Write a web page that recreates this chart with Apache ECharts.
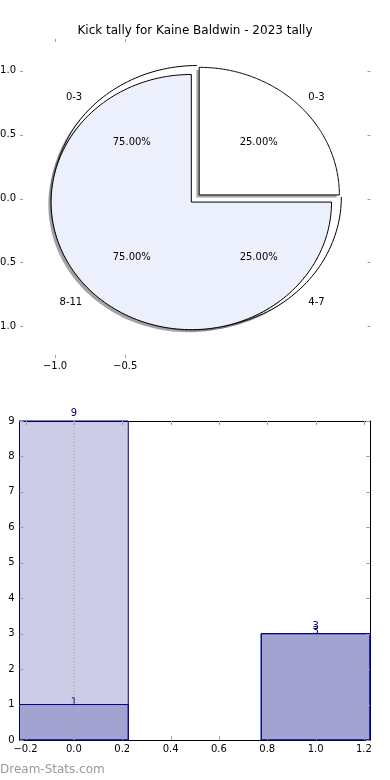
<!DOCTYPE html>
<html><head><meta charset="utf-8">
<script src="https://cdn.jsdelivr.net/npm/echarts@6/dist/echarts.min.js"></script>
<style>html,body{margin:0;padding:0;background:#fff}#c{width:390px;height:780px}</style>
</head><body><div id="c"></div>
<script>
// ---------- data ----------
const chartTitle = 'Kick tally for Kaine Baldwin - 2023 tally';
const pie1Labels = ['0-3', '0-3'];
const pie1Values = [25, 75];
const pie2Labels = ['4-7', '8-11'];
const pie2Values = [25, 75];
const pieTicksX = [-1, -0.5];
const pieTicksY = [-1, -0.5, 0, 0.5, 1];
const barPositions = [0, 1];
const barSeriesA = [9, 3];
const barSeriesB = [1, 3];
const barTicksX = [-0.2, 0, 0.2, 0.4, 0.6, 0.8, 1.0, 1.2];
const barTicksY = [0, 1, 2, 3, 4, 5, 6, 7, 8, 9];
const barRefLineX = 0;
const watermark = 'Dream-Stats.com';

// ---------- helpers ----------
const FONT = 'DejaVu Sans';
const sum = a => a.reduce((s, v) => s + v, 0);
const fmt = v => (v < 0 ? '\u2212' : '') + Math.abs(v).toFixed(1);
const total1 = sum(pie1Values), total2 = sum(pie2Values);
const BLUE = '#EBF0FC';
const PIE_X = [-1.25, 1.25], PIE_Y = [-1.25, 1.25];
const BAR_X = [-0.225, 1.225], BAR_Y = [0, 9];
const TEXT_DY = 1.5;

// sectors in drawing order
const sectors = [
  { value: pie1Values[1], total: total1, start: 90, cx: 0.012, cy: 0.012, r: 1.03, fill: '#ffffff', shade: 'rgba(77,77,77,0.5)', arcOnly: true },
  { value: pie1Values[0], total: total1, start: 0, cx: 0.028, cy: 0.028, r: 1, fill: '#ffffff', shade: 'rgba(77,77,77,0.5)' },
  { value: pie2Values[1], total: total2, start: 90, cx: -0.028, cy: -0.028, r: 1, fill: BLUE, shade: 'rgba(70,72,76,0.5)' }
];
const pieTexts = [
  { label: pie1Labels[0], value: pie1Values[0], total: total1, angle: 45 },
  { label: pie1Labels[1], value: pie1Values[1], total: total1, angle: 135 },
  { label: pie2Labels[0], value: pie2Values[0], total: total2, angle: 315 },
  { label: pie2Labels[1], value: pie2Values[1], total: total2, angle: 225 }
];

function arcPoints(api, cx, cy, r, start, sweep) {
  const pts = [];
  const N = 160;
  for (let k = 0; k <= N; k++) {
    const a = (start + sweep * k / N) * Math.PI / 180;
    pts.push(api.coord([cx + r * Math.cos(a), cy + r * Math.sin(a)]));
  }
  return pts;
}
function sectorPoints(api, cx, cy, r, start, sweep) {
  return [api.coord([cx, cy])].concat(arcPoints(api, cx, cy, r, start, sweep));
}

const labelStyle = { fontFamily: FONT, fontSize: 10, color: '#000' };
const TICK_COLOR = '#a0a0a0';

function tickLine(x1, y1, x2, y2) {
  return { type: 'line', shape: { x1: x1, y1: y1, x2: x2, y2: y2 }, style: { stroke: TICK_COLOR, lineWidth: 1 } };
}
function tickSeries(xIdx, yIdx, xr, yr, xt, yt, len) {
  return {
    type: 'custom', xAxisIndex: xIdx, yAxisIndex: yIdx, silent: true, z: 10,
    data: [[xr[0], yr[0]]],
    renderItem: function (params, api) {
      const ch = [];
      yt.forEach(v => {
        const l = api.coord([xr[0], v]), r = api.coord([xr[1], v]);
        const y = Math.round(l[1]) + 0.5;
        ch.push(tickLine(l[0], y, l[0] + len, y));
        ch.push(tickLine(r[0], y, r[0] - len, y));
      });
      xt.forEach(v => {
        const b = api.coord([v, yr[0]]), t = api.coord([v, yr[1]]);
        const x = Math.round(b[0]) + 0.5;
        ch.push(tickLine(x, b[1], x, b[1] - len));
        ch.push(tickLine(x, t[1], x, t[1] + len));
      });
      return { type: 'group', children: ch };
    }
  };
}

const barW = 0.45;
function barRender(labelOffset) {
  return function (params, api) {
    const x = api.value(0), h = api.value(1);
    const p1 = api.coord([x - barW / 2, h]);
    const p2 = api.coord([x + barW / 2, 0]);
    const top = api.coord([x, h]);
    return {
      type: 'group',
      children: [
        { type: 'rect', shape: { x: p1[0], y: p1[1], width: p2[0] - p1[0], height: p2[1] - p1[1] },
          style: { fill: 'rgba(0,0,128,0.2)', stroke: '#000080', lineWidth: 1 } },
        { type: 'text', x: top[0], y: top[1] - labelOffset,
          style: { text: String(h), fontFamily: FONT, fontSize: 10, fill: '#000080', align: 'center', verticalAlign: 'bottom' } }
      ]
    };
  };
}

const noTick = { show: false };
const yLabelPad = [3, 0, 0, 0];
const chart = echarts.init(document.getElementById('c'), null, { renderer: 'canvas' });
const option = {
  animation: false,
  backgroundColor: '#fff',
  title: {
    text: chartTitle, left: 'center', top: 20,
    textStyle: { fontFamily: FONT, fontSize: 12, fontWeight: 'normal', color: '#000' }
  },
  grid: [
    { left: 20, right: 19.5, top: 39, height: 319, containLabel: false, outerBoundsMode: 'none' },
    { left: 19.5, right: 20, top: 421, height: 319, containLabel: false, outerBoundsMode: 'none' }
  ],
  xAxis: [
    { gridIndex: 0, type: 'value', position: 'bottom', min: PIE_X[0], max: PIE_X[1],
      axisLine: { show: false }, splitLine: { show: false }, axisTick: noTick,
      axisLabel: Object.assign({ customValues: pieTicksX, formatter: fmt, margin: 3 }, labelStyle) },
    { gridIndex: 0, type: 'value', position: 'top', min: PIE_X[0], max: PIE_X[1],
      axisLine: { show: false }, splitLine: { show: false }, axisTick: noTick, axisLabel: { show: false } },
    { gridIndex: 1, type: 'value', position: 'bottom', min: BAR_X[0], max: BAR_X[1],
      axisLine: { show: true, onZero: false, lineStyle: { color: '#000', width: 1 } }, splitLine: { show: false },
      axisTick: noTick,
      axisLabel: Object.assign({ customValues: barTicksX, formatter: fmt, margin: 4 }, labelStyle) },
    { gridIndex: 1, type: 'value', position: 'top', min: BAR_X[0], max: BAR_X[1],
      axisLine: { show: true, onZero: false, lineStyle: { color: '#000', width: 1 } }, splitLine: { show: false },
      axisTick: noTick, axisLabel: { show: false } }
  ],
  yAxis: [
    { gridIndex: 0, type: 'value', position: 'left', min: PIE_Y[0], max: PIE_Y[1],
      axisLine: { show: false }, splitLine: { show: false }, axisTick: noTick,
      axisLabel: Object.assign({ customValues: pieTicksY, formatter: fmt, margin: 4, padding: yLabelPad }, labelStyle) },
    { gridIndex: 0, type: 'value', position: 'right', min: PIE_Y[0], max: PIE_Y[1],
      axisLine: { show: false }, splitLine: { show: false }, axisTick: noTick, axisLabel: { show: false } },
    { gridIndex: 1, type: 'value', position: 'left', min: BAR_Y[0], max: BAR_Y[1], interval: 1,
      axisLine: { show: true, onZero: false, lineStyle: { color: '#000', width: 1 } }, splitLine: { show: false },
      axisTick: noTick,
      axisLabel: Object.assign({ customValues: barTicksY, margin: 5, padding: yLabelPad }, labelStyle) },
    { gridIndex: 1, type: 'value', position: 'right', min: BAR_Y[0], max: BAR_Y[1], interval: 1,
      axisLine: { show: true, onZero: false, lineStyle: { color: '#000', width: 1 } }, splitLine: { show: false },
      axisTick: noTick, axisLabel: { show: false } }
  ],
  series: [
    { type: 'custom', xAxisIndex: 0, yAxisIndex: 0, silent: true,
      data: sectors.map((s, i) => [0, 0, i]),
      renderItem: function (params, api) {
        const s = sectors[params.dataIndex];
        const sweep = s.value / s.total * 360;
        const children = [
          { type: 'polygon', shape: { points: sectorPoints(api, s.cx - 0.02, s.cy - 0.02, s.r, s.start, sweep) },
            style: { fill: s.shade } }
        ];
        if (s.arcOnly) {
          children.push({ type: 'polygon', shape: { points: sectorPoints(api, s.cx, s.cy, s.r, s.start, sweep) },
            style: { fill: s.fill } });
          children.push({ type: 'polyline', shape: { points: arcPoints(api, s.cx, s.cy, s.r, s.start, sweep) },
            style: { fill: null, stroke: '#000', lineWidth: 1 } });
        } else {
          children.push({ type: 'polygon', shape: { points: sectorPoints(api, s.cx, s.cy, s.r, s.start, sweep) },
            style: { fill: s.fill, stroke: '#000', lineWidth: 1 } });
        }
        return { type: 'group', children: children };
      } },
    { type: 'custom', xAxisIndex: 0, yAxisIndex: 0, silent: true, z: 5,
      data: pieTexts.map((t, i) => [0, 0, i]),
      renderItem: function (params, api) {
        const t = pieTexts[params.dataIndex];
        const a = t.angle * Math.PI / 180, c = Math.cos(a), s = Math.sin(a);
        const ex = 0.04;
        const pl = api.coord([(1.1 + ex) * c, (1.1 + ex) * s]);
        const pp = api.coord([(0.6 + ex) * c, (0.6 + ex) * s]);
        return {
          type: 'group',
          children: [
            { type: 'text', x: pl[0], y: pl[1] + TEXT_DY,
              style: { text: t.label, fontFamily: FONT, fontSize: 10, fill: '#000', align: c > 0 ? 'left' : 'right', verticalAlign: 'middle' } },
            { type: 'text', x: pp[0], y: pp[1] + TEXT_DY,
              style: { text: (t.value / t.total * 100).toFixed(2) + '%', fontFamily: FONT, fontSize: 10, fill: '#000', align: 'center', verticalAlign: 'middle' } }
          ]
        };
      } },
    tickSeries(0, 0, PIE_X, PIE_Y, pieTicksX, pieTicksY, 3),
    { type: 'custom', xAxisIndex: 2, yAxisIndex: 2, silent: true,
      data: barPositions.map((x, i) => [x, barSeriesA[i]]),
      renderItem: barRender(2.5) },
    { type: 'custom', xAxisIndex: 2, yAxisIndex: 2, silent: true,
      data: barPositions.map((x, i) => [x, barSeriesB[i]]),
      renderItem: barRender(-3) },
    { type: 'line', xAxisIndex: 2, yAxisIndex: 2, silent: true, z: 6,
      data: [[barRefLineX, BAR_Y[0]], [barRefLineX, BAR_Y[1]]],
      symbol: 'none', lineStyle: { color: '#a0a0a0', width: 1, type: [1, 2] } },
    tickSeries(2, 2, BAR_X, BAR_Y, barTicksX, barTicksY, 4)
  ],
  graphic: [
    { type: 'text', left: 0, top: 764,
      style: { text: watermark, fontFamily: FONT, fontSize: 12, fill: '#999' } }
  ]
};
chart.setOption(option);
</script></body></html>
